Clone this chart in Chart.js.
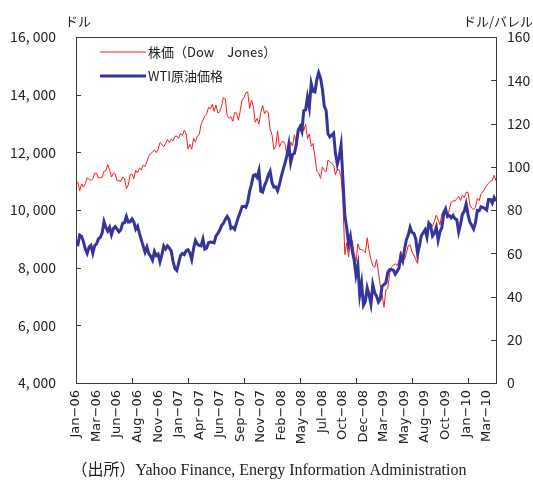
<!DOCTYPE html>
<html>
<head>
<meta charset="utf-8">
<script src="https://cdn.jsdelivr.net/npm/chart.js@4.4.0/dist/chart.umd.min.js"></script>
<style>
  html, body { margin: 0; padding: 0; background: #fff; }
  #wrap { width: 533px; height: 482px; position: relative; }
</style>
</head>
<body>
<div id="wrap"><canvas id="dowWti"></canvas></div>
<script>
// weekly values, first week of Jan-06 to end of Apr-10
const dow2006 = [11012, 10960, 10667, 10908, 10794, 10920, 11116, 11062, 11022, 11076, 11280, 11280, 11109,
  11120, 11137, 11347, 11367, 11577, 11380, 11144, 11278, 11247, 11015, 11014, 10989, 11150,
  11090, 10739, 10868, 11219, 11240, 11088, 11381, 11284, 11464, 11392, 11560, 11508, 11679,
  11866, 11960, 12002, 12090, 11986, 12108, 12342, 12280, 12194, 12307, 12445, 12343, 12463];
const dow2007 = [12398, 12556, 12565, 12487, 12653, 12581, 12768, 12647, 12114, 12277, 12110, 12481, 12354,
  12561, 12612, 12962, 13121, 13265, 13327, 13557, 13507, 13668, 13424, 13640, 13361, 13409,
  13612, 13908, 13851, 13266, 13182, 13240, 13079, 13379, 13358, 13114, 13443, 13821, 13896,
  14066, 14094, 13522, 13807, 13596, 13043, 13177, 12981, 13372, 13626, 13340, 13450, 13366];
const dow2008 = [12800, 12606, 12099, 12207, 12743, 12182, 12348, 12381, 12266, 11894, 11951, 12361, 12216,
  12609, 12325, 12850, 12891, 13058, 12745, 12986, 12480, 12638, 12210, 12307, 11843, 11346,
  11289, 11100, 11496, 11370, 11326, 11734, 11660, 11628, 11544, 11220, 11422, 11388, 11143,
  10325, 8451, 8852, 8378, 8900, 8943, 8497, 8200, 8829, 8635, 8629, 8579, 8515];
const dow2009 = [9034, 8599, 8281, 8077, 8000, 8280, 7850, 7366, 7063, 6627, 7224, 7279, 7776,
  8017, 8083, 8131, 8076, 8212, 8575, 8268, 8277, 8500, 8764, 8799, 8540, 8438,
  8280, 8146, 8743, 9093, 9172, 9370, 9321, 9505, 9544, 9441, 9605, 9820, 9665,
  9488, 9865, 9996, 9972, 9713, 10023, 10271, 10318, 10310, 10389, 10471, 10329, 10520, 10428];
const dow2010 = [10618, 10610, 10173, 10067, 10012, 10099, 10402, 10325, 10567, 10625, 10742, 10851,
  10927, 10997, 11019, 11205, 11009];

const wti2006 = [64.2, 63.9, 68.4, 67.8, 65.4, 61.8, 59.9, 62.9, 63.7, 60.0, 63.5, 64.3, 66.6,
  67.4, 69.3, 74.6, 71.9, 70.2, 72.0, 68.5, 71.4, 72.3, 71.1, 69.9, 70.9, 73.9,
  74.1, 77.0, 74.4, 74.5, 75.9, 74.4, 71.1, 72.5, 69.2, 66.2, 63.3, 60.5, 62.9,
  59.8, 58.6, 56.8, 60.8, 58.9, 59.6, 56.0, 59.2, 63.4, 62.0, 63.4, 62.4, 61.1];
const wti2007 = [56.3, 52.9, 52.0, 55.4, 59.0, 59.9, 59.4, 61.1, 61.6, 60.1, 57.1, 62.3, 65.9,
  64.3, 63.6, 63.4, 66.5, 61.9, 62.4, 64.9, 65.2, 65.1, 64.8, 68.0, 69.2, 70.7,
  72.8, 73.9, 75.6, 77.0, 75.5, 71.5, 72.0, 71.1, 74.0, 76.7, 79.1, 81.6, 81.7,
  81.2, 83.7, 88.6, 91.9, 95.9, 96.3, 95.1, 98.2, 88.7, 88.3, 91.3, 93.3, 96.0];
const wti2008 = [97.9, 92.7, 90.6, 90.7, 88.9, 91.8, 95.5, 98.8, 101.8, 105.2, 110.2, 101.8, 105.6,
  106.2, 110.1, 116.7, 118.5, 116.3, 125.9, 126.3, 132.2, 127.4, 138.5, 134.9, 134.6, 140.2,
  143.5, 141.0, 136.0, 128.0, 126.0, 115.2, 113.8, 114.6, 115.5, 106.2, 101.2, 104.6, 110.0,
  93.9, 77.7, 71.9, 64.2, 67.8, 61.0, 57.0, 49.9, 54.4, 40.8, 46.3, 36.0, 37.7];
const wti2009 = [44.0, 40.8, 36.5, 45.5, 41.7, 40.2, 37.5, 38.9, 44.8, 45.5, 46.3, 51.1, 52.4,
  52.5, 52.2, 50.3, 51.6, 53.2, 58.6, 56.4, 61.7, 66.3, 68.4, 72.0, 69.6, 69.2,
  66.7, 59.9, 63.6, 68.1, 69.5, 70.9, 67.5, 73.9, 72.7, 68.0, 69.3, 72.0, 66.0,
  69.9, 71.8, 78.5, 80.5, 77.0, 77.4, 76.4, 77.5, 76.0, 75.5, 69.9, 73.4, 78.1, 79.4];
const wti2010 = [82.8, 78.0, 74.5, 72.9, 71.2, 74.1, 79.8, 79.7, 81.5, 81.2, 80.7, 80.0,
  84.9, 84.9, 83.2, 85.8, 84.2];

const tickLabels = ["Jan-06", "Mar-06", "Jun-06", "Aug-06", "Nov-06", "Jan-07", "Apr-07",
  "Jun-07", "Sep-07", "Nov-07", "Feb-08", "May-08", "Jul-08", "Oct-08", "Dec-08",
  "Mar-09", "May-09", "Aug-09", "Oct-09", "Jan-10", "Mar-10"];

const dow = [].concat(dow2006, dow2007, dow2008, dow2009, dow2010);
const wti = [].concat(wti2006, wti2007, wti2008, wti2009, wti2010);

const labelEvery = 11; // a label every 11 weeks
const markEvery = 30;  // a tick mark every 30 weeks
const leftUnit = "ドル";
const rightUnit = "ドル/バレル";
const source = "（出所）Yahoo Finance, Energy Information Administration";

const gothic = "'Noto Sans CJK JP', 'DejaVu Sans', sans-serif";

// frame, inward tick marks, legend and notes
const extras = {
  id: "extras",
  afterDraw(chart) {
    const { ctx, chartArea: a, scales } = chart;
    ctx.save();
    ctx.strokeStyle = "#3a3a3a";
    ctx.lineWidth = 1;
    ctx.strokeRect(Math.round(a.left) + 0.5, Math.round(a.top) + 0.5,
      Math.round(a.right - a.left), Math.round(a.bottom - a.top));
    ctx.beginPath();
    for (let w = markEvery; w < dow.length; w += markEvery) {
      const x = Math.round(scales.x.getPixelForValue(w)) + 0.5;
      ctx.moveTo(x, a.bottom);
      ctx.lineTo(x, a.bottom - 5);
    }
    scales.yDow.ticks.forEach(t => {
      const y = Math.round(scales.yDow.getPixelForValue(t.value)) + 0.5;
      ctx.moveTo(a.left, y);
      ctx.lineTo(a.left + 5, y);
    });
    scales.yWti.ticks.forEach(t => {
      const y = Math.round(scales.yWti.getPixelForValue(t.value)) + 0.5;
      ctx.moveTo(a.right, y);
      ctx.lineTo(a.right - 5, y);
    });
    ctx.stroke();

    // legend
    ctx.font = "13px " + gothic;
    ctx.textBaseline = "middle";
    ctx.fillStyle = "#222";
    chart.data.datasets.forEach((ds, i) => {
      const y = a.top + 15 + i * 24;
      ctx.strokeStyle = ds.borderColor;
      ctx.lineWidth = ds.borderWidth;
      ctx.beginPath();
      ctx.moveTo(a.left + 24, y);
      ctx.lineTo(a.left + 70, y);
      ctx.stroke();
      ctx.fillText(ds.label, a.left + 72, y);
    });

    ctx.textAlign = "center";
    ctx.fillText(leftUnit, 78, 21);
    ctx.textAlign = "right";
    ctx.fillText(rightUnit, 533, 21);
    ctx.textAlign = "center";
    ctx.font = "16px 'Liberation Serif', 'Noto Sans CJK JP', serif";
    ctx.fillText(source, 269, 471);
    ctx.restore();
  }
};

const ctx = document.getElementById("dowWti").getContext("2d");

const dowWtiChart = new Chart(ctx, {
  type: "line",
  data: {
    datasets: [
      {
        label: "株価（Dow　Jones）",
        data: dow.map((v, i) => ({ x: i, y: v })),
        yAxisID: "yDow",
        borderColor: "#ff1a1a",
        borderWidth: 1,
        pointRadius: 0,
        tension: 0,
        order: 2,
      },
      {
        label: "WTI原油価格",
        data: wti.map((v, i) => ({ x: i, y: v })),
        yAxisID: "yWti",
        borderColor: "#34349c",
        borderWidth: 3,
        pointRadius: 0,
        tension: 0,
        order: 1,
      },
    ],
  },
  options: {
    responsive: true,
    maintainAspectRatio: false,
    animation: false,
    layout: { padding: { top: 37, left: 0, right: 0, bottom: 0 } },
    plugins: {
      legend: { display: false },
      title: { display: false },
      tooltip: { enabled: false },
    },
    scales: {
      x: {
        type: "linear",
        min: 0,
        max: dow.length - 1,
        afterBuildTicks: function (scale) {
          scale.ticks = tickLabels.map((t, k) => ({ value: k * labelEvery }));
        },
        afterFit: function (scale) {
          scale.height = 99;
        },
        ticks: {
          autoSkip: false,
          minRotation: 90,
          maxRotation: 90,
          padding: 7,
          color: "#222",
          font: { family: "'DejaVu Sans', sans-serif", size: 13 },
          callback: function (value) {
            return tickLabels[Math.round(value / labelEvery)].replace("-", "\u2212");
          },
        },
        grid: { display: false, drawTicks: false },
        border: { display: false },
      },
      yDow: {
        position: "left",
        min: 4000,
        max: 16000,
        afterFit: function (scale) {
          scale.width = 76;
        },
        ticks: {
          stepSize: 2000,
          padding: 20,
          color: "#222",
          font: { family: gothic, size: 14 },
          callback: function (value) {
            return value.toLocaleString("en-US").replace(",", ", ");
          },
        },
        grid: { display: false, drawTicks: false },
        border: { display: false },
      },
      yWti: {
        position: "right",
        min: 0,
        max: 160,
        afterFit: function (scale) {
          scale.width = 37;
        },
        ticks: {
          stepSize: 20,
          padding: 11,
          color: "#222",
          font: { family: gothic, size: 14 },
        },
        grid: { display: false, drawTicks: false },
        border: { display: false },
      },
    },
  },
  plugins: [extras],
});
</script>
</body>
</html>
